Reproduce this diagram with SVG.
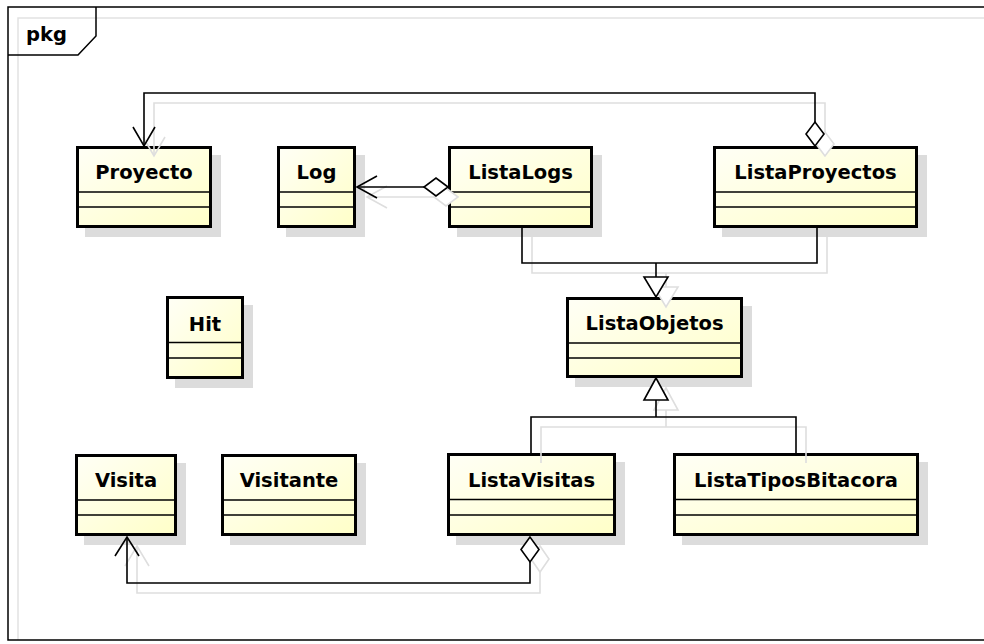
<svg xmlns="http://www.w3.org/2000/svg" width="984" height="644" viewBox="0 0 984 644">
  <defs>
    <linearGradient id="classFill" x1="0" y1="0" x2="1" y2="1">
      <stop offset="0" stop-color="#fffff6"/>
      <stop offset="1" stop-color="#ffffc8"/>
    </linearGradient>
  </defs>
  <style>
    .frame { fill: none; stroke: #000; stroke-width: 1.5; }
    .frameInner { fill: none; stroke: #e2e2e2; stroke-width: 1.5; }
    .shadow { fill: #dcdcdc; stroke: none; }
    .box { fill: url(#classFill); stroke: #000; stroke-width: 3; }
    .sep { stroke: #000; stroke-width: 1.5; }
    .name { font-family: "DejaVu Sans", "Liberation Sans", sans-serif; font-weight: bold; font-size: 19.5px; fill: #000; text-anchor: middle; }
    .tabText { font-family: "DejaVu Sans", "Liberation Sans", sans-serif; font-weight: bold; font-size: 19.5px; fill: #000; }
    .edge { fill: none; stroke: #000; stroke-width: 1.6; }
    .edgeShadow { fill: none; stroke: #dedede; stroke-width: 1.6; }
    .head { fill: #fff; stroke: #000; stroke-width: 1.6; }
    .headShadow { fill: #fff; stroke: #dedede; stroke-width: 1.6; }
  </style>

  <rect x="0" y="0" width="984" height="644" fill="#fff"/>

  <!-- package frame -->
  <g id="pkg">
    <path class="frameInner" d="M18,640 L18,18 L990,18"/>
    <path class="frame" d="M990,7 L8,7 L8,640 L990,640"/>
    <path class="frame" d="M96,7 L96,36 L78,55 L8,55"/>
    <text class="tabText" x="26" y="41">pkg</text>
  </g>

  <!-- classes -->
  <g id="Proyecto">
    <rect class="shadow" x="85" y="155" width="136" height="82"/>
    <rect class="box" x="77.5" y="147.5" width="133" height="79"/>
    <line class="sep" x1="77.5" y1="192" x2="210.5" y2="192"/>
    <line class="sep" x1="77.5" y1="207" x2="210.5" y2="207"/>
    <text class="name" x="144" y="179">Proyecto</text>
  </g>

  <g id="Log">
    <rect class="shadow" x="286" y="155" width="79" height="82"/>
    <rect class="box" x="278.5" y="147.5" width="76" height="79"/>
    <line class="sep" x1="278.5" y1="192" x2="354.5" y2="192"/>
    <line class="sep" x1="278.5" y1="207" x2="354.5" y2="207"/>
    <text class="name" x="316.5" y="179">Log</text>
  </g>

  <g id="ListaLogs">
    <rect class="shadow" x="457" y="155" width="145" height="82"/>
    <rect class="box" x="449.5" y="147.5" width="142" height="79"/>
    <line class="sep" x1="449.5" y1="192" x2="591.5" y2="192"/>
    <line class="sep" x1="449.5" y1="207" x2="591.5" y2="207"/>
    <text class="name" x="520.5" y="179">ListaLogs</text>
  </g>

  <g id="ListaProyectos">
    <rect class="shadow" x="722" y="155" width="205" height="82"/>
    <rect class="box" x="714.5" y="147.5" width="202" height="79"/>
    <line class="sep" x1="714.5" y1="192" x2="916.5" y2="192"/>
    <line class="sep" x1="714.5" y1="207" x2="916.5" y2="207"/>
    <text class="name" x="815.5" y="179">ListaProyectos</text>
  </g>

  <g id="Hit">
    <rect class="shadow" x="175" y="305" width="78" height="83"/>
    <rect class="box" x="167.5" y="297.5" width="75" height="80"/>
    <line class="sep" x1="167.5" y1="342.5" x2="242.5" y2="342.5"/>
    <line class="sep" x1="167.5" y1="358" x2="242.5" y2="358"/>
    <text class="name" x="205" y="331">Hit</text>
  </g>

  <g id="ListaObjetos">
    <rect class="shadow" x="575" y="306" width="177" height="81"/>
    <rect class="box" x="567.5" y="298.5" width="174" height="78"/>
    <line class="sep" x1="567.5" y1="343" x2="741.5" y2="343"/>
    <line class="sep" x1="567.5" y1="358" x2="741.5" y2="358"/>
    <text class="name" x="654.5" y="330">ListaObjetos</text>
  </g>

  <g id="Visita">
    <rect class="shadow" x="84" y="463" width="102" height="82"/>
    <rect class="box" x="76.5" y="455.5" width="99" height="79"/>
    <line class="sep" x1="76.5" y1="500" x2="175.5" y2="500"/>
    <line class="sep" x1="76.5" y1="515" x2="175.5" y2="515"/>
    <text class="name" x="126" y="487">Visita</text>
  </g>

  <g id="Visitante">
    <rect class="shadow" x="230" y="463" width="136" height="82"/>
    <rect class="box" x="222.5" y="455.5" width="133" height="79"/>
    <line class="sep" x1="222.5" y1="500" x2="355.5" y2="500"/>
    <line class="sep" x1="222.5" y1="515" x2="355.5" y2="515"/>
    <text class="name" x="289" y="487">Visitante</text>
  </g>

  <g id="ListaVisitas">
    <rect class="shadow" x="456" y="462" width="169" height="83"/>
    <rect class="box" x="448.5" y="454.5" width="166" height="80"/>
    <line class="sep" x1="448.5" y1="499.5" x2="614.5" y2="499.5"/>
    <line class="sep" x1="448.5" y1="515" x2="614.5" y2="515"/>
    <text class="name" x="531.5" y="487">ListaVisitas</text>
  </g>

  <g id="ListaTiposBitacora">
    <rect class="shadow" x="682" y="462" width="246" height="83"/>
    <rect class="box" x="674.5" y="454.5" width="243" height="80"/>
    <line class="sep" x1="674.5" y1="499.5" x2="917.5" y2="499.5"/>
    <line class="sep" x1="674.5" y1="515" x2="917.5" y2="515"/>
    <text class="name" x="796" y="487">ListaTiposBitacora</text>
  </g>

  <!-- connectors: soft shadow copies first, then the lines themselves -->
  <g id="connectors">
    <g id="connector-shadows">
      <path class="edgeShadow" d="M825,132 L825,103 L154,103 L154,156"/>
      <path class="edgeShadow" d="M143,137 L154,156 L165,137"/>
      <polygon class="headShadow" points="825,156 816,144 825,132 834,144"/>

      <path class="edgeShadow" d="M434,197 L367,197"/>
      <path class="edgeShadow" d="M387,186 L367,197 L387,208"/>
      <polygon class="headShadow" points="458,197 446,188 434,197 446,206"/>

      <path class="edgeShadow" d="M532,237 L532,273 L827,273 L827,237"/>
      <path class="edgeShadow" d="M666,273 L666,287"/>
      <polygon class="headShadow" points="654,287 678,287 666,307"/>

      <polygon class="headShadow" points="666,388 654,410 678,410"/>
      <path class="edgeShadow" d="M666,410 L666,427"/>
      <path class="edgeShadow" d="M541,463 L541,427 L806,427 L806,463"/>

      <path class="edgeShadow" d="M540,572 L540,593 L137,593 L137,546"/>
      <path class="edgeShadow" d="M125,566 L137,546 L149,566"/>
      <polygon class="headShadow" points="540,546 531,559 540,572 549,559"/>
    </g>

    <!-- ListaProyectos aggregates Proyecto -->
    <g id="edge-ListaProyectos-Proyecto">
      <path class="edge" d="M815,122 L815,93 L144,93 L144,146"/>
      <path class="edge" d="M133,127 L144,146 L155,127"/>
      <polygon class="head" points="815,146 806,134 815,122 824,134"/>
    </g>

    <!-- ListaLogs aggregates Log -->
    <g id="edge-ListaLogs-Log">
      <path class="edge" d="M424,187 L357,187"/>
      <path class="edge" d="M377,176 L357,187 L377,198"/>
      <polygon class="head" points="448,187 436,178 424,187 436,196"/>
    </g>

    <!-- ListaLogs, ListaProyectos extend ListaObjetos -->
    <g id="edge-gen-top">
      <path class="edge" d="M522,228 L522,263 L817,263 L817,228"/>
      <path class="edge" d="M656,263 L656,277"/>
      <polygon class="head" points="644,277 668,277 656,297"/>
    </g>

    <!-- ListaVisitas, ListaTiposBitacora extend ListaObjetos -->
    <g id="edge-gen-bottom">
      <polygon class="head" points="656,378 644,400 668,400"/>
      <path class="edge" d="M656,400 L656,417"/>
      <path class="edge" d="M531,453 L531,417 L796,417 L796,453"/>
    </g>

    <!-- ListaVisitas aggregates Visita -->
    <g id="edge-ListaVisitas-Visita">
      <path class="edge" d="M530,562 L530,583 L127,583 L127,537"/>
      <path class="edge" d="M115,556 L127,537 L139,556"/>
      <polygon class="head" points="530,537 521,549.5 530,562 539,549.5"/>
    </g>
  </g>
</svg>
